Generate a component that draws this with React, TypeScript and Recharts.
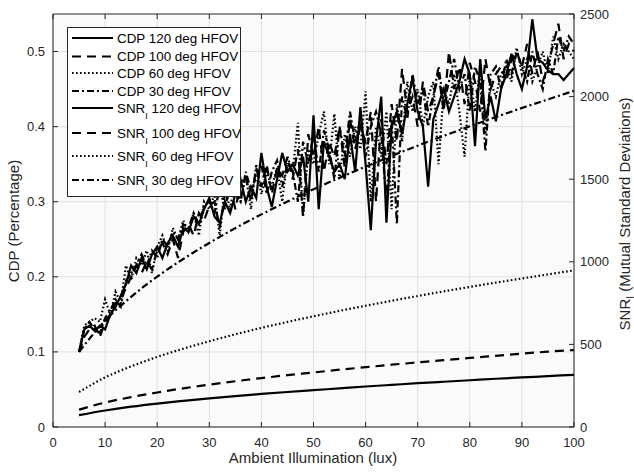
import React from 'react';
import { LineChart, Line, XAxis, YAxis, CartesianGrid, Legend } from 'recharts';

const lux = [5, 6, 7, 8, 9, 10, 11, 12, 13, 14, 15, 16, 17, 18, 19, 20, 21, 22, 23, 24, 25, 26, 27, 28, 29, 30, 31, 32, 33, 34, 35, 36, 37, 38, 39, 40, 41, 42, 43, 44, 45, 46, 47, 48, 49, 50, 51, 52, 53, 54, 55, 56, 57, 58, 59, 60, 61, 62, 63, 64, 65, 66, 67, 68, 69, 70, 71, 72, 73, 74, 75, 76, 77, 78, 79, 80, 81, 82, 83, 84, 85, 86, 87, 88, 89, 90, 91, 92, 93, 94, 95, 96, 97, 98, 99, 100];

const cdp120 = [0.100, 0.130, 0.135, 0.128, 0.135, 0.130, 0.150, 0.160, 0.175, 0.190, 0.215, 0.205, 0.225, 0.210, 0.230, 0.240, 0.225, 0.245, 0.255, 0.240, 0.265, 0.260, 0.280, 0.270, 0.290, 0.305, 0.280, 0.272, 0.300, 0.285, 0.310, 0.330, 0.300, 0.320, 0.305, 0.365, 0.320, 0.293, 0.330, 0.365, 0.340, 0.350, 0.335, 0.360, 0.300, 0.415, 0.290, 0.380, 0.360, 0.340, 0.350, 0.330, 0.390, 0.340, 0.426, 0.350, 0.262, 0.380, 0.440, 0.272, 0.400, 0.420, 0.390, 0.430, 0.465, 0.420, 0.400, 0.320, 0.410, 0.430, 0.450, 0.420, 0.440, 0.460, 0.490, 0.470, 0.374, 0.490, 0.410, 0.440, 0.407, 0.450, 0.470, 0.497, 0.470, 0.450, 0.480, 0.543, 0.490, 0.485, 0.475, 0.470, 0.470, 0.462, 0.470, 0.478];

const cdp100 = [0.100, 0.120, 0.130, 0.135, 0.120, 0.140, 0.150, 0.165, 0.170, 0.185, 0.200, 0.215, 0.205, 0.220, 0.210, 0.235, 0.245, 0.230, 0.250, 0.225, 0.260, 0.270, 0.255, 0.285, 0.275, 0.295, 0.300, 0.265, 0.310, 0.320, 0.290, 0.325, 0.335, 0.300, 0.345, 0.320, 0.350, 0.310, 0.345, 0.335, 0.360, 0.330, 0.370, 0.280, 0.390, 0.360, 0.400, 0.340, 0.380, 0.360, 0.400, 0.345, 0.410, 0.370, 0.400, 0.380, 0.420, 0.300, 0.410, 0.350, 0.430, 0.380, 0.477, 0.420, 0.440, 0.400, 0.460, 0.420, 0.440, 0.470, 0.420, 0.500, 0.450, 0.480, 0.430, 0.485, 0.460, 0.420, 0.490, 0.450, 0.470, 0.480, 0.460, 0.490, 0.500, 0.480, 0.510, 0.470, 0.500, 0.460, 0.480, 0.510, 0.537, 0.490, 0.510, 0.500];

const cdp60 = [0.100, 0.135, 0.140, 0.145, 0.140, 0.170, 0.150, 0.180, 0.165, 0.215, 0.195, 0.225, 0.215, 0.235, 0.205, 0.240, 0.255, 0.235, 0.265, 0.250, 0.275, 0.260, 0.285, 0.255, 0.300, 0.290, 0.310, 0.255, 0.320, 0.290, 0.335, 0.300, 0.335, 0.290, 0.350, 0.310, 0.340, 0.320, 0.345, 0.300, 0.360, 0.340, 0.405, 0.280, 0.370, 0.350, 0.390, 0.420, 0.350, 0.417, 0.330, 0.390, 0.360, 0.400, 0.370, 0.447, 0.300, 0.400, 0.360, 0.420, 0.290, 0.430, 0.380, 0.460, 0.420, 0.450, 0.400, 0.440, 0.460, 0.350, 0.450, 0.430, 0.470, 0.420, 0.360, 0.470, 0.420, 0.480, 0.390, 0.460, 0.440, 0.470, 0.480, 0.460, 0.505, 0.470, 0.490, 0.460, 0.480, 0.500, 0.470, 0.520, 0.490, 0.510, 0.500, 0.490];

const cdp30 = [0.100, 0.130, 0.140, 0.130, 0.125, 0.145, 0.155, 0.170, 0.160, 0.195, 0.205, 0.215, 0.230, 0.215, 0.235, 0.225, 0.250, 0.240, 0.260, 0.250, 0.270, 0.265, 0.285, 0.270, 0.295, 0.300, 0.285, 0.320, 0.290, 0.325, 0.310, 0.300, 0.340, 0.315, 0.330, 0.350, 0.310, 0.340, 0.355, 0.320, 0.350, 0.340, 0.300, 0.380, 0.350, 0.390, 0.340, 0.395, 0.370, 0.330, 0.400, 0.360, 0.420, 0.380, 0.410, 0.360, 0.400, 0.420, 0.390, 0.300, 0.410, 0.270, 0.440, 0.410, 0.470, 0.430, 0.450, 0.400, 0.440, 0.480, 0.430, 0.460, 0.490, 0.450, 0.470, 0.420, 0.480, 0.460, 0.367, 0.470, 0.480, 0.450, 0.490, 0.470, 0.500, 0.480, 0.460, 0.500, 0.470, 0.450, 0.490, 0.470, 0.520, 0.500, 0.520, 0.510];

const snrLux = [5, 10, 15, 20, 25, 30, 35, 40, 45, 50, 55, 60, 65, 70, 75, 80, 85, 90, 95, 100];
const snr120 = [72, 100, 123, 142, 158, 173, 187, 200, 212, 223, 234, 245, 255, 265, 274, 283, 292, 300, 308, 316];
const snr100 = [105, 148, 181, 209, 234, 256, 277, 296, 314, 330, 347, 362, 377, 391, 405, 418, 431, 444, 456, 466];
const snr60 = [212, 300, 367, 424, 474, 519, 561, 600, 636, 670, 703, 734, 764, 793, 821, 848, 874, 899, 924, 948];
const snr30 = [455, 644, 788, 910, 1017, 1114, 1204, 1287, 1365, 1439, 1509, 1576, 1641, 1703, 1762, 1820, 1876, 1931, 1983, 2035];

const xTicks = [0, 10, 20, 30, 40, 50, 60, 70, 80, 90, 100];
const cdpTicks = [0, 0.1, 0.2, 0.3, 0.4, 0.5];
const snrTicks = [0, 500, 1000, 1500, 2000, 2500];

const seriesNames = [
  'CDP 120 deg HFOV', 'CDP 100 deg HFOV', 'CDP 60 deg HFOV', 'CDP 30 deg HFOV',
  'SNR 120 deg HFOV', 'SNR 100 deg HFOV', 'SNR 60 deg HFOV', 'SNR 30 deg HFOV',
];

const data = lux.map((x, i) => {
  const j = snrLux.indexOf(x);
  return {
    x,
    cdp120: cdp120[i],
    cdp100: cdp100[i],
    cdp60: cdp60[i],
    cdp30: cdp30[i],
    snr120: j >= 0 ? snr120[j] : null,
    snr100: j >= 0 ? snr100[j] : null,
    snr60: j >= 0 ? snr60[j] : null,
    snr30: j >= 0 ? snr30[j] : null,
  };
});

const FONT = '"Liberation Sans", Arial, Helvetica, sans-serif';
const INK = '#262626';
const DASHES = ['0', '9 6', '1.6 2.4', '7 3 2 3'];
const keys = ['cdp120', 'cdp100', 'cdp60', 'cdp30', 'snr120', 'snr100', 'snr60', 'snr30'];

const BottomTick = (props: any) => {
  const { x, y, payload } = props;
  const ay = y - 11;
  return (
    <g>
      <line x1={x} x2={x} y1={ay} y2={ay - 5} stroke={INK} strokeWidth={1} />
      <text x={x} y={y} dy="0.71em" textAnchor="middle" fontSize={13} fill={INK} fontFamily={FONT}>{String(payload.value)}</text>
    </g>
  );
};
const TopTick = (props: any) => {
  const { x, y } = props;
  return <line x1={x} x2={x} y1={y} y2={y + 5} stroke={INK} strokeWidth={1} />;
};
const LeftTick = (props: any) => {
  const { x, y, payload } = props;
  const ax = x + 8;
  return (
    <g>
      <line x1={ax} x2={ax + 5} y1={y} y2={y} stroke={INK} strokeWidth={1} />
      <text x={x} y={y} dy="0.35em" textAnchor="end" fontSize={13} fill={INK} fontFamily={FONT}>{String(payload.value)}</text>
    </g>
  );
};
const RightTick = (props: any) => {
  const { x, y, payload } = props;
  const ax = x - 6;
  return (
    <g>
      <line x1={ax} x2={ax - 5} y1={y} y2={y} stroke={INK} strokeWidth={1} />
      <text x={x} y={y} dy="0.35em" textAnchor="start" fontSize={13} fill={INK} fontFamily={FONT}>{String(payload.value)}</text>
    </g>
  );
};

const rowY = [11, 29.5, 46, 64, 81, 106, 129, 153];

const LegendBox = () => (
  <svg width={175} height={171} style={{ display: 'block' }}>
    <rect x={0.5} y={0.5} width={173} height={169} fill="#fff" stroke={INK} strokeWidth={1} />
    {seriesNames.map((name, i) => {
      const y = rowY[i];
      const isSnr = i >= 4;
      const rest = name.replace(/^(CDP|SNR)/, '');
      return (
        <g key={name}>
          <line x1={5} x2={46} y1={y} y2={y} stroke="#000" strokeWidth={2} strokeDasharray={DASHES[i % 4]} />
          <text x={50} y={y} dy="0.35em" fontSize={13.4} fill="#000" fontFamily={FONT}>
            {isSnr ? (
              <>
                <tspan>SNR</tspan>
                <tspan dy={6} fontSize={9}>I</tspan>
                <tspan dy={-6}>{rest}</tspan>
              </>
            ) : name}
          </text>
        </g>
      );
    })}
  </svg>
);

export default function App() {
  return (
    <div style={{ position: 'absolute', left: 0, top: 0, width: 634, height: 472, background: '#fff' }}>
      <LineChart width={634} height={472} data={data} margin={{ top: 13, right: 10, bottom: 0, left: 13 }}>
        <CartesianGrid stroke="#e0e0e0" strokeWidth={1} fill="#fafafa" xAxisId="bottom" yAxisId="left"
          horizontalValues={cdpTicks} verticalValues={xTicks} />
        <XAxis xAxisId="bottom" dataKey="x" type="number" domain={[0, 100]} ticks={xTicks} height={45}
          axisLine={{ stroke: INK }} tickLine={false} tickSize={0} tickMargin={11} tick={<BottomTick />} interval={0}
          label={{ content: () => (
            <text x={313} y={463} textAnchor="middle" fontSize={15} fill={INK} fontFamily={FONT}>Ambient Illumination (lux)</text>
          ) }} />
        <XAxis xAxisId="top" orientation="top" dataKey="x" type="number" domain={[0, 100]} ticks={xTicks} height={1}
          axisLine={{ stroke: INK }} tickLine={false} tickSize={0} tickMargin={0} tick={<TopTick />} interval={0} />
        <YAxis yAxisId="left" orientation="left" type="number" domain={[0, 0.55]} ticks={cdpTicks} width={40}
          axisLine={{ stroke: INK }} tickLine={false} tickSize={0} tickMargin={8} tick={<LeftTick />} interval={0}
          label={{ content: () => (
            <text x={13} y={221} transform="rotate(-90 13 221)" textAnchor="middle" dominantBaseline="central"
              fontSize={15} fill={INK} fontFamily={FONT}>CDP (Percentage)</text>
          ) }} />
        <YAxis yAxisId="right" orientation="right" type="number" domain={[0, 2500]} ticks={snrTicks} width={50}
          axisLine={{ stroke: INK }} tickLine={false} tickSize={0} tickMargin={6} tick={<RightTick />} interval={0}
          label={{ content: () => (
            <text x={624} y={214} transform="rotate(-90 624 214)" textAnchor="middle" dominantBaseline="central"
              fontSize={15} fill={INK} fontFamily={FONT}>
              <tspan>SNR</tspan><tspan dy={6} fontSize={10}>I</tspan><tspan dy={-6}> (Mutual Standard Deviations)</tspan>
            </text>
          ) }} />
        {keys.slice(0, 4).map((k, i) => (
          <Line key={k} xAxisId="bottom" yAxisId="left" dataKey={k} name={seriesNames[i]} type="linear"
            stroke="#000" strokeWidth={2.2} strokeDasharray={DASHES[i]} dot={false} isAnimationActive={false} />
        ))}
        {keys.slice(4).map((k, i) => (
          <Line key={k} xAxisId="bottom" yAxisId="right" dataKey={k} name={seriesNames[i + 4]} type="monotone"
            stroke="#000" strokeWidth={2.2} strokeDasharray={DASHES[i]} dot={false} connectNulls isAnimationActive={false} />
        ))}
        <Legend layout="horizontal" verticalAlign="middle" align="center" content={() => <LegendBox />}
          wrapperStyle={{ left: 67, top: 27, width: 175, height: 171, margin: 0 }} />
      </LineChart>
    </div>
  );
}
